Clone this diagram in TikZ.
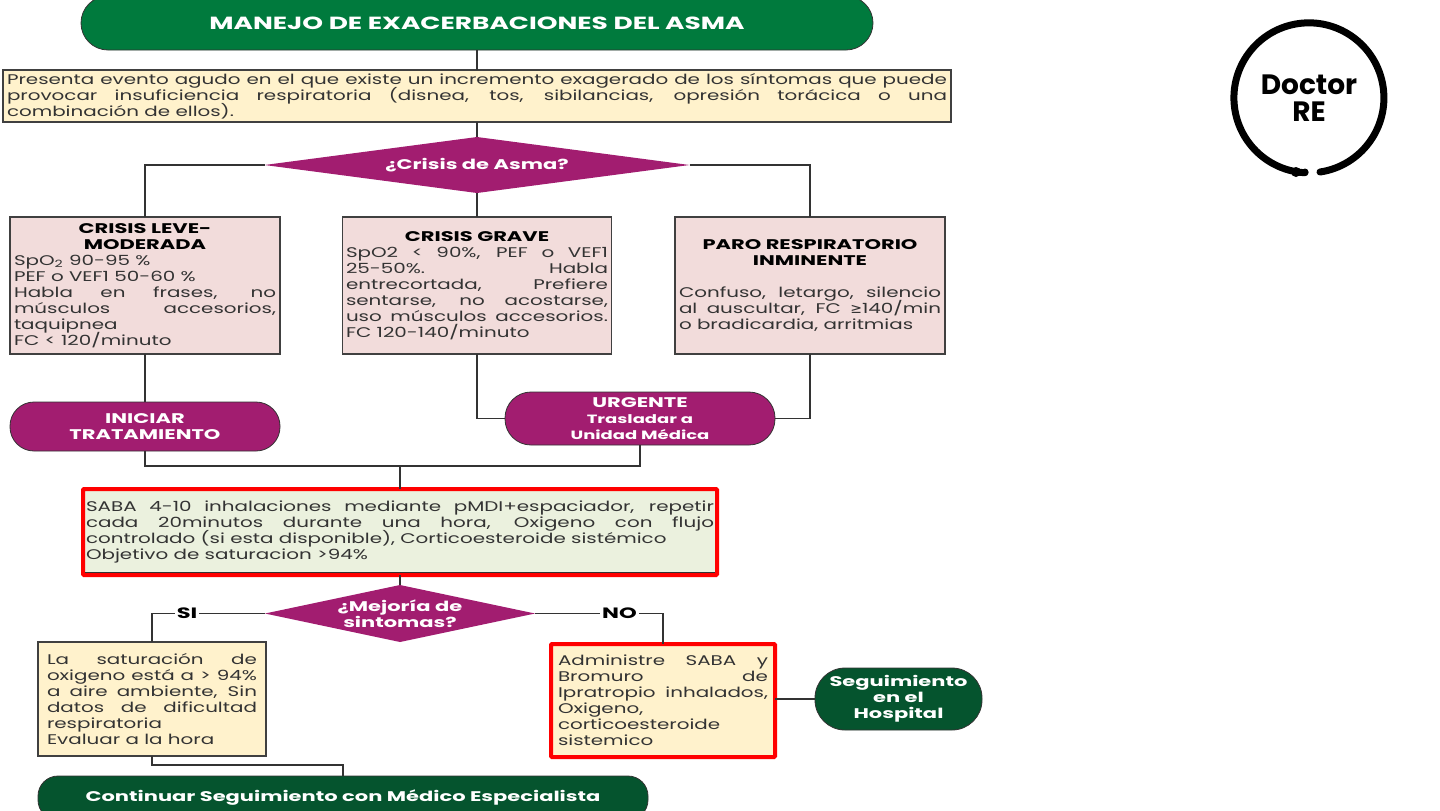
\documentclass[tikz,border=0pt]{standalone}
\usepackage{fontspec}
\setmainfont{Poppins}[FakeStretch=1.42,BoldFeatures={FakeStretch=1.5}]
\newfontfamily\logofont{Poppins}[FakeStretch=1.0]
\newfontfamily\symbfont{DejaVu Sans}
\usetikzlibrary{shapes.geometric}
\normallineskiplimit=-10pt
\definecolor{titlegreen}{RGB}{0,122,61}
\definecolor{darkgreen}{RGB}{5,84,46}
\definecolor{crisispurple}{RGB}{162,29,112}
\definecolor{creamfill}{RGB}{255,242,204}
\definecolor{rosefill}{RGB}{242,220,219}
\definecolor{palegreen}{RGB}{235,241,222}
\tikzset{
    txt/.style={font=\fontsize{7}{8}\selectfont, text=black!80, align=justify, inner sep=0pt, outer sep=0pt},
    plainbox/.style={txt, rectangle, draw=black!75, line width=0.7pt},
    redbox/.style={txt, rectangle, draw=red, line width=2pt, rounded corners=0.5pt},
    pill/.style={rectangle, rounded corners=12pt, draw=black!80, line width=0.4pt, text=white, align=center, inner sep=0pt, outer sep=0pt, font=\fontsize{7}{8}\selectfont\bfseries},
    decision/.style={diamond, aspect=5, fill=crisispurple, text=white, align=center, inner sep=-4pt, outer sep=0pt, font=\fontsize{7}{8}\selectfont\bfseries},
    link/.style={draw=black!80, line width=0.8pt},
    answer/.style={fill=white, text=black, inner sep=1pt, font=\fontsize{7.5}{8}\selectfont\bfseries}
}
\newcommand{\boxhead}[1]{{\centering\bfseries\color{black}#1\par}}
\newcommand{\smalltxt}[1]{{\fontsize{6}{8}\selectfont #1}}
\begin{document}
\begin{tikzpicture}[x=0.5pt,y=-0.5pt]
    \useasboundingbox (0,0) rectangle (1440,810);
    \clip (0,0) rectangle (1440,810);

    % Draw nodes
    \node[pill, fill=titlegreen, minimum width=396pt, minimum height=27pt, rounded corners=13.5pt, font=\fontsize{8.8}{9}\selectfont\bfseries] (title) at (477,23) {MANEJO DE EXACERBACIONES DEL ASMA};
    \node[plainbox, fill=creamfill, minimum width=474pt, minimum height=26pt, text width=470pt] (evento) at (477,96) {Presenta evento agudo en el que existe un incremento exagerado de los síntomas que puede\linebreak provocar insuficiencia respiratoria (disnea, tos, sibilancias, opresión torácica o una\linebreak combinación de ellos).};
    \node[decision, minimum width=212.5pt, minimum height=28pt, aspect=7.6] (crisis) at (477,165) {¿Crisis de Asma?};

    \node[plainbox, fill=rosefill, minimum width=135pt, minimum height=68.5pt, text width=131pt] (leve) at (145,285.5) {\boxhead{CRISIS LEVE-\\MODERADA}SpO\textsubscript{2} 90-95 \%\par PEF o VEF1 50-60 \%\par Habla en frases, no\linebreak músculos accesorios,\linebreak taquipnea\par FC < 120/minuto};
    \node[plainbox, fill=rosefill, minimum width=134.5pt, minimum height=68.5pt, text width=131pt] (grave) at (477,285.5) {\boxhead{CRISIS GRAVE}SpO2 < 90\%, PEF o VEF1\linebreak 25-50\%. Habla\linebreak entrecortada, Prefiere\linebreak sentarse, no acostarse,\linebreak uso músculos accesorios.\linebreak FC 120-140/minuto};
    \node[plainbox, fill=rosefill, minimum width=135pt, minimum height=68.5pt, text width=131pt] (paro) at (810,285.5) {\boxhead{PARO RESPIRATORIO\\INMINENTE}\vspace{8pt}Confuso, letargo, silencio\linebreak al auscultar, FC {\symbfont≥}140/min\linebreak o bradicardia, arritmias};

    \node[pill, fill=crisispurple, minimum width=135pt, minimum height=24.5pt] (iniciar) at (145,426.5) {INICIAR\\TRATAMIENTO};
    \node[pill, fill=crisispurple, minimum width=135pt, minimum height=26.5pt, rounded corners=13pt] (urgente) at (640,418.5) {URGENTE\\\smalltxt{Trasladar a}\\\smalltxt{Unidad Médica}};

    \node[redbox, fill=palegreen, minimum width=317pt, minimum height=43pt, text width=314pt] (saba) at (400,532) {SABA 4-10 inhalaciones mediante pMDI+espaciador, repetir\linebreak cada 20minutos durante una hora, Oxigeno con flujo\linebreak controlado (si esta disponible), Corticoesteroide sistémico\par Objetivo de saturacion >94\%};
    \node[decision, minimum width=135pt, minimum height=28.5pt, aspect=4.7] (mejoria) at (400,613.5) {¿Mejoría de\\sintomas?};

    \node[plainbox, fill=creamfill, minimum width=114pt, minimum height=57pt, text width=105pt] (mejora) at (152,699) {La saturación de\linebreak oxigeno está a > 94\%\linebreak a aire ambiente, Sin\linebreak datos de dificultad\linebreak respiratoria\par Evaluar a la hora};
    \node[redbox, fill=creamfill, minimum width=112pt, minimum height=56.5pt, text width=105pt] (rescate) at (663,700.5) {Administre SABA y\linebreak Bromuro de\linebreak Ipratropio inhalados,\linebreak Oxigeno,\par corticoesteroide\par sistemico};
    \node[pill, fill=darkgreen, minimum width=83.5pt, minimum height=31pt, rounded corners=15pt] (hospital) at (898.5,699) {Seguimiento\\en el\\Hospital};
    \node[pill, fill=darkgreen, minimum width=305pt, minimum height=22pt, rounded corners=10pt] (continuar) at (343,798) {Continuar Seguimiento con Médico Especialista};

    % Draw connections
    \coordinate (union) at (400,466);
    \coordinate (cierre) at (343,765);
    \draw[link] (title) -- (evento);
    \draw[link] (evento) -- (crisis);
    \draw[link] (crisis.west) -| (leve.north);
    \draw[link] (crisis.east) -| (paro.north);
    \draw[link] (crisis.south) -- (grave.north);
    \draw[link] (leve.south) -- (iniciar.north);
    \draw[link] (grave.south) |- (urgente.west);
    \draw[link] (paro.south) |- (urgente.east);
    \draw[link] (iniciar.south) |- (union);
    \draw[link] (urgente.south) |- (union);
    \draw[link] (union) -- (saba.north);
    \draw[link] (saba.south) -- (mejoria.north);
    \draw[link] (mejoria.west) -| (mejora.north) node[answer, pos=0.345] (si) {SI};
    \draw[link] (mejoria.east) -| (rescate.north) node[answer, pos=0.33] (no) {NO};
    \draw[link] (mejora.south) |- (cierre) -- (continuar.north);
    \draw[link] (rescate.east |- hospital.west) -- (hospital.west);
    \draw[draw=black!80, line width=0.4pt] ([xshift=1pt,yshift=1.5pt]saba.south west) -- ([xshift=-1pt,yshift=1.5pt]saba.south east);

    % Logo
    \node[inner sep=0pt, align=center, text=black, font=\fontsize{14}{13.5}\selectfont\logofont\bfseries] (logo) at (1309,98) {Doctor\\RE};
    \draw[line width=3.5pt, line cap=round] (1320,172) arc[start angle=81.5, end angle=-267, radius=75];
    \fill (1296,172) circle[radius=5];
    \fill (1305,172) circle[radius=3.5];
\end{tikzpicture}
\end{document}
